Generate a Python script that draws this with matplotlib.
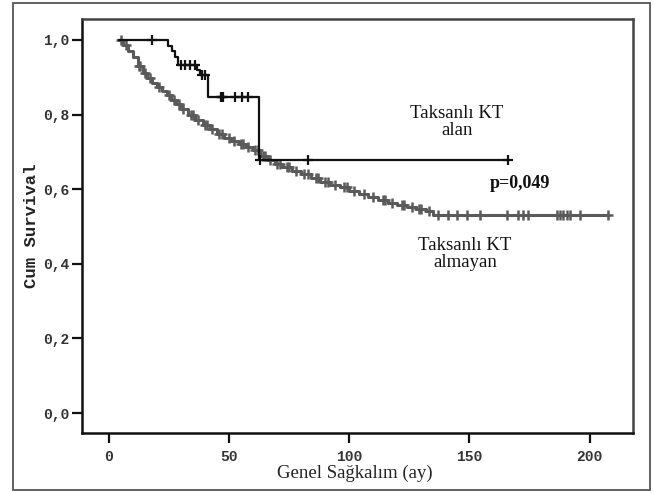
import numpy as np
import matplotlib
matplotlib.use("Agg")
import matplotlib.pyplot as plt
from matplotlib.patches import Rectangle

# ---- data ----
# Taksanlı KT alan (black): step times and survival after each step
alan_t = [4.0, 24.7, 26.1, 27.5, 28.8, 36.7, 38.0, 41.3, 62.3]
alan_s = [1.0, 0.984, 0.969, 0.955, 0.933, 0.920, 0.906, 0.846, 0.678]
alan_end = 166.0
alan_cens = [17.8, 30.2, 31.6, 33.7, 35.8, 38.6, 40.0, 46.5, 47.0, 47.5,
             52.4, 55.2, 58.0, 63.0, 82.7, 166.0]

# Taksanlı KT almayan (gray)
alm_t = [4, 6, 8, 10, 12, 14, 16, 18, 20, 22, 24, 26, 28, 30, 33, 36, 39, 42,
         45, 48, 51, 54, 57, 60, 63, 66, 69, 72, 76, 80, 84, 88, 92, 96, 100,
         104, 108, 112, 116, 120, 124, 128, 132, 135]
alm_s = [1.0, 0.985, 0.97, 0.955, 0.93, 0.912, 0.898, 0.884, 0.874, 0.862,
         0.851, 0.839, 0.827, 0.815, 0.800, 0.786, 0.772, 0.760, 0.748, 0.738,
         0.730, 0.722, 0.714, 0.704, 0.688, 0.677, 0.668, 0.660, 0.648, 0.640,
         0.630, 0.620, 0.612, 0.605, 0.596, 0.588, 0.580, 0.572, 0.563, 0.557,
         0.553, 0.548, 0.542, 0.531]
alm_end = 207.8
alm_cens = [5, 7, 12.5, 13, 15, 17, 21, 25, 27, 29, 31, 34, 35, 37, 40, 41, 43,
            46, 47, 50, 52, 55, 56, 58, 61, 62, 64, 65, 67, 70, 71, 74, 75, 78,
            81, 83, 86, 87, 90, 91, 94, 98, 99, 102, 106, 110, 114, 115, 118,
            122, 123, 126, 129, 130, 133, 137, 141.2, 144.7, 148.9, 154.4,
            165.5, 170.3, 172.4, 174.5, 186.3, 187.7, 189.1, 190.5, 191.9,
            196, 207.8]

xticks = [0, 50, 100, 150, 200]
yticks = [0.0, 0.2, 0.4, 0.6, 0.8, 1.0]
ytick_labels = ["0,0", "0,2", "0,4", "0,6", "0,8", "1,0"]

W, H = 654, 493
fig = plt.figure(figsize=(W / 100, H / 100), dpi=100)
# outer frame
fig.add_artist(Rectangle((13 / W, 1 - 490 / H), (650 - 13) / W, (490 - 3) / H,
                         transform=fig.transFigure, fill=False,
                         edgecolor="#555555", linewidth=1.3))

ax = fig.add_axes([82 / W, 1 - 433 / H, (633 - 82) / W, (433 - 19) / H])


def step_xy(t, s, end):
    xs = list(t) + [end]
    ys = list(s) + [s[-1]]
    return xs, ys


def surv_at(t, s, x):
    idx = np.searchsorted(np.asarray(t), x, side="right") - 1
    idx = np.clip(idx, 0, len(s) - 1)
    return np.asarray(s)[idx]


gray = "#5a5a5a"
gx, gy = step_xy(alm_t, alm_s, alm_end)
ax.step(gx, gy, where="post", color=gray, lw=2.2, zorder=2)
ax.plot(alm_cens, surv_at(alm_t, alm_s, alm_cens), linestyle="none",
        marker="+", markersize=6.5, mew=1.8, color=gray, zorder=2)

bx, by = step_xy(alan_t, alan_s, alan_end)
ax.step(bx, by, where="post", color="#111111", lw=1.6, zorder=3)
ax.plot(alan_cens, surv_at(alan_t, alan_s, alan_cens), linestyle="none",
        marker="+", markersize=7, mew=1.6, color="#111111", zorder=3)

ax.set_xlim(-11.2, 218.1)
ax.set_ylim(-0.0536, 1.056)
ax.set_xticks(xticks)
ax.set_xticklabels([str(v) for v in xticks])
ax.set_yticks(yticks)
ax.set_yticklabels(ytick_labels)

for lab in ax.get_xticklabels() + ax.get_yticklabels():
    lab.set_fontfamily("Liberation Mono")
    lab.set_fontweight("bold")
    lab.set_fontsize(10.5)
    lab.set_color("#333333")
ax.tick_params(direction="out", length=7, width=1.6, color="#111111")
ax.tick_params(axis="x", pad=5)
ax.tick_params(axis="y", pad=2)

for side in ["left", "bottom"]:
    ax.spines[side].set_color("#111111")
    ax.spines[side].set_linewidth(1.8)
for side in ["top", "right"]:
    ax.spines[side].set_color("#444444")
    ax.spines[side].set_linewidth(1.8)

ax.set_ylabel("Cum Survival", fontfamily="Liberation Mono", fontweight="bold",
              fontsize=12.5, color="#222222")
ax.yaxis.set_label_coords((32 - 82) / (633 - 82), 0.5)
ax.yaxis.label.set_va("center")
ax.set_xlabel("Genel Sağkalım (ay)", fontfamily="Liberation Serif",
              fontsize=13.5, color="#222222")
ax.xaxis.set_label_coords((355 - 82) / (633 - 82), -(473 - 433) / (433 - 19))
ax.xaxis.label.set_va("center")

serif = dict(fontfamily="Liberation Serif", fontsize=13.5, color="#111111",
             ha="center", va="center", linespacing=0.95)
ax.text((457 - 109) / 2.403, (413 - 122) / 373, "Taksanlı KT\nalan", **serif)
ax.text((465 - 109) / 2.403, (413 - 254) / 373, "Taksanlı KT\nalmayan", **serif)
ax.text((520 - 109) / 2.403, (413 - 184) / 373, "p=0,049",
        fontfamily="Liberation Serif", fontsize=13, fontweight="bold",
        color="#111111", ha="center", va="center")

fig.savefig("out.png", dpi=100)
